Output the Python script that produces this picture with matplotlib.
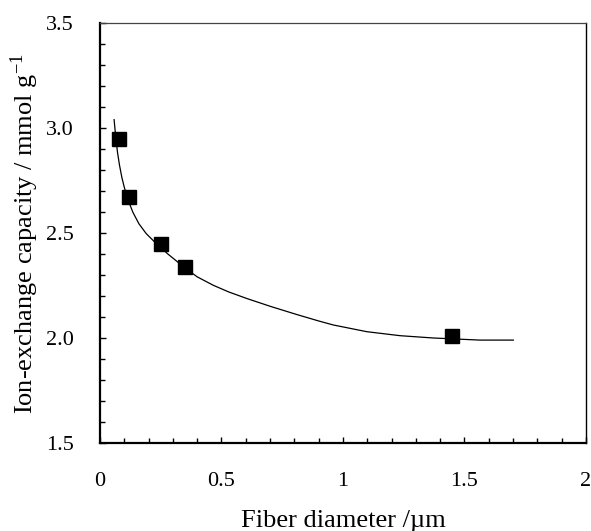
import matplotlib
matplotlib.use("Agg")
import matplotlib.pyplot as plt
from matplotlib.ticker import MultipleLocator, FixedLocator, FixedFormatter

plt.rcParams['font.family'] = ['Liberation Serif', 'DejaVu Serif']
plt.rcParams['mathtext.fontset'] = 'stix'

# measured data points
diameter = [0.08, 0.12, 0.25, 0.35, 1.45]
capacity = [2.95, 2.67, 2.45, 2.34, 2.01]

# fitted curve
curve_x = [0.058, 0.065, 0.072, 0.080, 0.090, 0.100, 0.115, 0.135, 0.160, 0.190,
           0.230, 0.280, 0.346, 0.400, 0.466, 0.530, 0.604, 0.700, 0.809, 0.900,
           0.960, 1.098, 1.235, 1.372, 1.449, 1.564, 1.701]
curve_y = [3.040, 2.955, 2.885, 2.825, 2.765, 2.718, 2.660, 2.600, 2.545, 2.498,
           2.452, 2.400, 2.338, 2.292, 2.252, 2.220, 2.189, 2.152, 2.113, 2.082,
           2.063, 2.031, 2.012, 2.001, 1.997, 1.991, 1.991]

xticks = [0, 0.5, 1, 1.5, 2]
xticklabels = ['0', '0.5', '1', '1.5', '2']
yticks = [1.5, 2.0, 2.5, 3.0, 3.5]
yticklabels = ['1.5', '2.0', '2.5', '3.0', '3.5']

fig = plt.figure(figsize=(5.91, 5.31), dpi=100)
ax = fig.add_axes([0.1692, 0.1652, 0.8223, 0.7915])

ax.plot(curve_x, curve_y, color='black', lw=0.9, zorder=2)
ax.plot(diameter, capacity, linestyle='none', marker='s', markersize=10.5,
        color='black', zorder=3)

ax.set_xlim(0, 2)
ax.set_ylim(1.5, 3.5)
ax.xaxis.set_major_locator(FixedLocator(xticks))
ax.xaxis.set_major_formatter(FixedFormatter(xticklabels))
ax.yaxis.set_major_locator(FixedLocator(yticks))
ax.yaxis.set_major_formatter(FixedFormatter(yticklabels))
ax.xaxis.set_minor_locator(MultipleLocator(0.1))
ax.yaxis.set_minor_locator(MultipleLocator(0.1))

ax.tick_params(which='both', direction='in', top=False, right=False,
               labelsize=16, color='black', width=1.0)
ax.tick_params(which='major', length=4.5)
ax.tick_params(axis='x', which='major', pad=21)
ax.tick_params(axis='y', which='major', pad=19)
ax.tick_params(which='minor', length=3.5)

for side in ['left', 'bottom']:
    ax.spines[side].set_linewidth(1.6)
    ax.spines[side].set_color('black')
ax.spines['top'].set_linewidth(0.9)
ax.spines['top'].set_color('#444444')
ax.spines['right'].set_linewidth(1.0)
ax.spines['right'].set_color('black')

ax.set_xlabel('Fiber diameter /\u00b5m', fontsize=19, labelpad=13)
ax.set_ylabel(r'Ion-exchange capacity / mmol g$^{\mathregular{-1}}$', fontsize=19, labelpad=3.5)

fig.savefig('out.png', dpi=100)
